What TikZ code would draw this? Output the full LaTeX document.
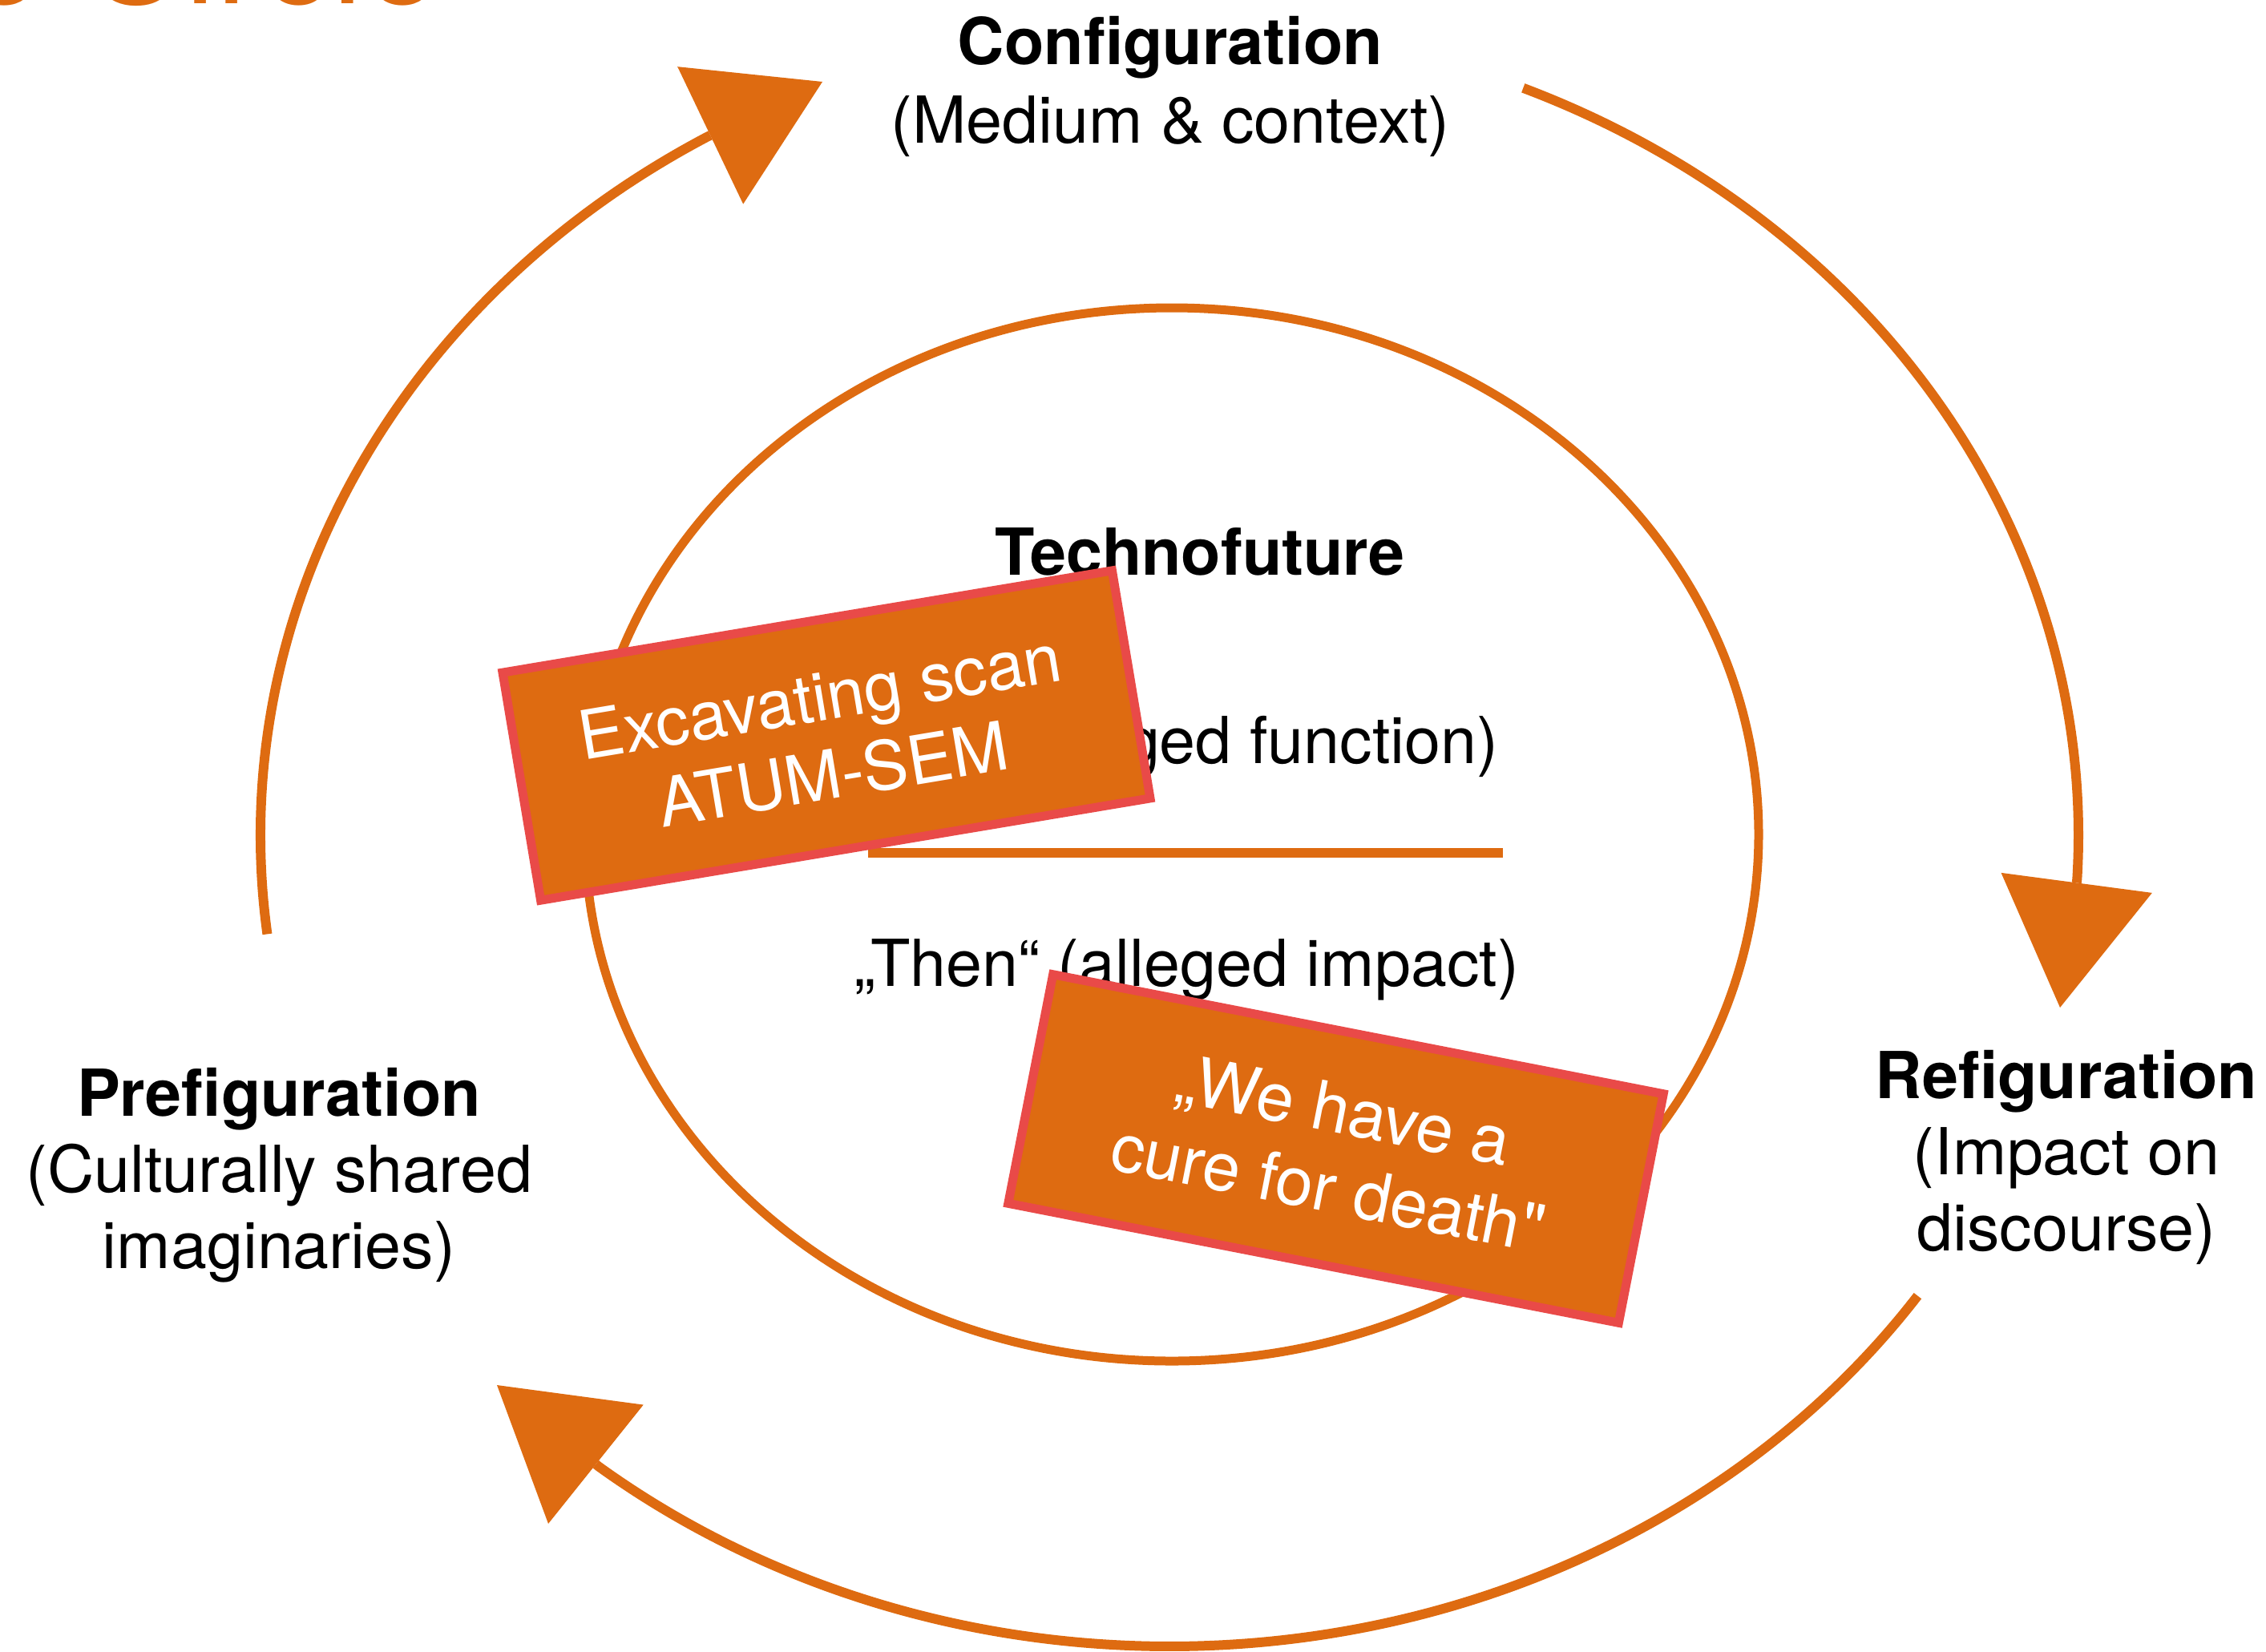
\documentclass[tikz,border=0pt]{standalone}
\usepackage{fontspec}
\setmainfont{TeX Gyre Heros}
\newfontfamily\plainquotefont{TeX Gyre Heros}
\usetikzlibrary{arrows.meta,calc}
\definecolor{cyorange}{RGB}{222,107,17}
\definecolor{boxred}{RGB}{233,74,72}
\begin{document}
\begin{tikzpicture}[
  cyc/.style={cyorange, line width=0.12cm, line cap=butt},
  bigtip/.style={-{Triangle[length=#1, width=1.9cm, line width=0pt]}},
  lbl/.style={inner sep=0pt, align=center, font=\fontsize{23}{27.5}\selectfont},
  stampbox/.style={fill=cyorange, draw=boxred, line width=0.11cm, text=white,
    align=center, inner sep=0pt, font=\fontsize{24}{28}\selectfont}
]
\useasboundingbox (0,0) rectangle (28.27,-20.60);

% partial title at the top edge
\node[anchor=base west, inner sep=0pt, text=cyorange, font=\fontsize{50}{60}\selectfont] (title) at (-0.44,-0.04) {e Circle};

% centres
\coordinate (C) at (14.59,-10.42);
\coordinate (Ci) at (14.62,-10.41);

% arc end points
\coordinate (aS) at ($(C)+(187:11.34 and 10.12)$);
\coordinate (aT) at (10.26,-1.02);
\coordinate (bS) at ($(C)+(67.1:11.34 and 10.12)$);
\coordinate (bT) at (25.70,-12.57);
\coordinate (cS) at ($(C)+(-34.6:11.34 and 10.12)$);
\coordinate (cT) at (6.20,-17.28);

% outer cycle
\draw[cyc, bigtip=1.55cm] (aS) arc[start angle=187, end angle=120.6, x radius=11.34, y radius=10.12] -- (aT);
\draw[cyc, bigtip=1.57cm] (bS) arc[start angle=67.1, end angle=-3.1, x radius=11.34, y radius=10.12] -- (bT);
\draw[cyc, bigtip=1.58cm] (cS) arc[start angle=-34.6, end angle=-128.9, x radius=11.34, y radius=10.12] -- (cT);

% inner ellipse
\draw[cyorange, line width=0.11cm] (Ci) ellipse[x radius=7.32, y radius=6.57];

% dividing line
\coordinate (hl) at (10.83,-10.64);
\coordinate (hr) at (18.75,-10.64);
\draw[cyorange, line width=0.12cm] (hl) -- (hr);

% labels
\node[lbl, anchor=north, font=\fontsize{23}{27.9}\selectfont] (conf) at (14.60,-0.20) {\textbf{Configuration}\\(Medium \& context)};
\node[lbl, anchor=north, font=\fontsize{23}{27}\selectfont] (pre) at (3.48,-13.32) {\textbf{Prefiguration}\\(Culturally shared\\imaginaries)};
\node[lbl, anchor=north, font=\fontsize{23}{27}\selectfont] (ref) at (25.78,-13.10) {\textbf{Refiguration}\\(Impact on\\discourse)};
\node[lbl, anchor=base] (tech) at (14.97,-7.17) {\textbf{Technofuture}};
\node[lbl, anchor=base east] (func) at (18.70,-9.52) {(alleged function)};
\node[lbl, anchor=base] (then) at (14.80,-12.30) {„Then“ (alleged impact)};

% stamped boxes
\node[stampbox, rotate=9.5, minimum width=7.71cm, minimum height=2.88cm] (scan) at (10.31,-9.175) {Excavating scan\\ATUM-SEM};
\node[stampbox, rotate=-11.07, minimum width=7.76cm, minimum height=2.91cm] (cure) at (16.665,-14.33) {„We have a\\cure for death{\plainquotefont"}};
\end{tikzpicture}
\end{document}
